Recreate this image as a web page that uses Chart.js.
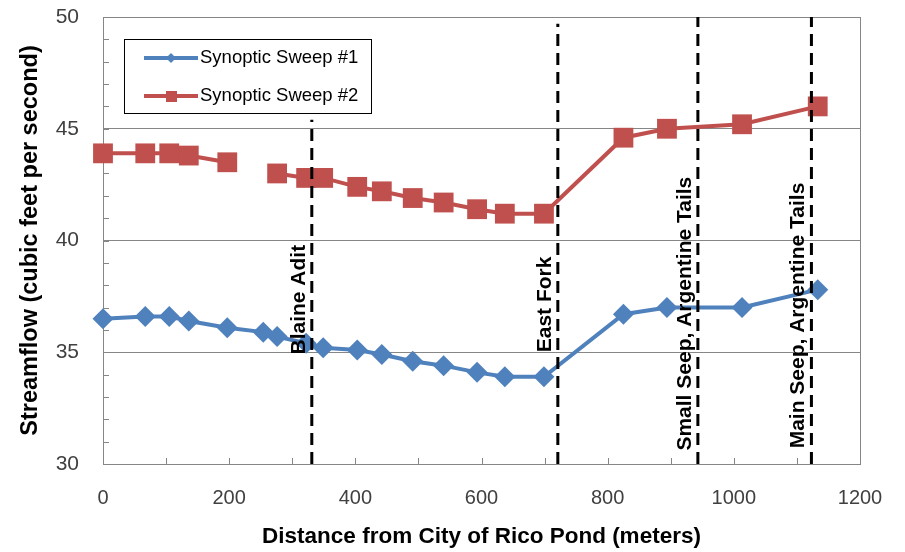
<!DOCTYPE html>
<html>
<head>
<meta charset="utf-8">
<script src="https://cdn.jsdelivr.net/npm/chart.js@4.4.1/dist/chart.umd.min.js"></script>
<style>
  html, body { margin: 0; padding: 0; background: #fff; }
  canvas { display: block; }
</style>
</head>
<body>
<canvas id="grafico" width="905" height="552"></canvas>
<script>
// DATOS
const distancias = [0, 67, 105, 136, 197, 254, 276, 322, 349, 403, 442, 491, 540, 593, 637, 699, 825, 894, 1013, 1133];
const sweep1 = [36.5, 36.6, 36.6, 36.4, 36.1, 35.9, 35.7, 35.4, 35.2, 35.1, 34.9, 34.6, 34.4, 34.1, 33.9, 33.9, 36.7, 37.0, 37.0, 37.8];
const sweep2 = [43.9, 43.9, 43.9, 43.8, 43.5, null, 43.0, 42.8, 42.8, 42.4, 42.2, 41.9, 41.7, 41.4, 41.2, 41.2, 44.6, 45.0, 45.2, 46.0];

const ticksX = [0, 200, 400, 600, 800, 1000, 1200];
const ticksY = [30, 35, 40, 45, 50];

// lineas verticales de referencia
const marcasX = [331, 721, 943, 1123];
const marcasTope = [45.4, 49.7, 50, 50];
const marcasBase = [34.9, 35.0, 30.6, 30.7];
const marcasTexto = ['Blaine Adit', 'East Fork', 'Small Seep, Argentine Tails', 'Main Seep, Argentine Tails'];

const fuente = "'Liberation Sans', Arial, sans-serif";
const AZUL = '#4F81BD';
const ROJO = '#C0504D';
const GRIS = '#868686';

Chart.defaults.font.family = fuente;

const puntos = serie => distancias.map((d, i) => ({ x: d, y: serie[i] }));

// ----------------------------
// PLUGINS
const marco = {
    id: 'marco',
    beforeDatasetsDraw(chart) {
        const { ctx, chartArea: a, scales: { x, y } } = chart;
        ctx.save();
        ctx.strokeStyle = GRIS;
        ctx.lineWidth = 1;
        ctx.strokeRect(a.left + 0.5, a.top + 0.5, a.right - a.left, a.bottom - a.top);
        ctx.beginPath();
        for (let v = 30; v <= 50; v++) {
            const py = Math.round(y.getPixelForValue(v)) + 0.5;
            ctx.moveTo(a.left, py);
            ctx.lineTo(a.left + 6, py);
        }
        for (let v = 0; v <= 1200; v += 100) {
            const px = Math.round(x.getPixelForValue(v)) + 0.5;
            ctx.moveTo(px, a.bottom);
            ctx.lineTo(px, a.bottom - 6);
        }
        ctx.stroke();
        ctx.restore();
    }
};

const etiquetas = {
    id: 'etiquetas',
    afterDatasetsDraw(chart) {
        const { ctx, scales: { x, y } } = chart;
        ctx.save();
        ctx.fillStyle = '#000';
        ctx.font = "bold 21px " + fuente;
        ctx.textAlign = 'left';
        ctx.textBaseline = 'alphabetic';
        marcasTexto.forEach((txt, i) => {
            ctx.save();
            ctx.translate(x.getPixelForValue(marcasX[i]) - 7, y.getPixelForValue(marcasBase[i]));
            ctx.rotate(-Math.PI / 2);
            ctx.fillText(txt, 0, 0);
            ctx.restore();
        });
        ctx.restore();
    }
};

const leyenda = {
    id: 'leyenda',
    afterDraw(chart) {
        const ctx = chart.ctx;
        ctx.save();
        ctx.fillStyle = '#fff';
        ctx.fillRect(124, 39, 248, 75);
        ctx.strokeStyle = '#000';
        ctx.lineWidth = 1;
        ctx.strokeRect(124.5, 39.5, 247, 74);

        const items = [
            { txt: 'Synoptic Sweep #1', color: AZUL, y: 58, forma: 'rombo' },
            { txt: 'Synoptic Sweep #2', color: ROJO, y: 96, forma: 'cuadro' }
        ];
        items.forEach(it => {
            ctx.strokeStyle = it.color;
            ctx.fillStyle = it.color;
            ctx.lineWidth = 4;
            ctx.beginPath();
            ctx.moveTo(144, it.y);
            ctx.lineTo(198, it.y);
            ctx.stroke();
            ctx.beginPath();
            if (it.forma === 'rombo') {
                ctx.moveTo(171 - 5, it.y);
                ctx.lineTo(171, it.y - 5);
                ctx.lineTo(171 + 5, it.y);
                ctx.lineTo(171, it.y + 5);
                ctx.closePath();
            } else {
                ctx.rect(166, it.y - 5, 11, 11);
            }
            ctx.fill();
            ctx.fillStyle = '#000';
            ctx.font = "18.5px " + fuente;
            ctx.textAlign = 'left';
            ctx.textBaseline = 'middle';
            ctx.fillText(it.txt, 200, it.y);
        });
        ctx.restore();
    }
};

// ----------------------------
// DATASETS
const lineasMarca = marcasX.map((mx, i) => ({
    label: marcasTexto[i],
    data: [{ x: mx, y: 30 }, { x: mx, y: marcasTope[i] }],
    borderColor: '#000',
    borderWidth: 3,
    borderDash: [12, 7],
    pointRadius: 0,
    order: 0
}));

const ctx = document.getElementById('grafico').getContext('2d');
new Chart(ctx, {
    type: 'line',
    data: {
        datasets: [
            ...lineasMarca,
            {
                label: 'Synoptic Sweep #1',
                data: puntos(sweep1),
                borderColor: AZUL,
                backgroundColor: AZUL,
                borderWidth: 4,
                pointStyle: 'rectRot',
                pointRadius: 10.5,
                pointBorderWidth: 0,
                tension: 0,
                clip: false,
                order: 2
            },
            {
                label: 'Synoptic Sweep #2',
                data: puntos(sweep2),
                borderColor: ROJO,
                backgroundColor: ROJO,
                borderWidth: 4,
                pointStyle: 'rect',
                pointRadius: 14,
                pointBorderWidth: 0,
                spanGaps: false,
                tension: 0,
                clip: false,
                order: 1
            }
        ]
    },
    options: {
        responsive: false,
        animation: false,
        devicePixelRatio: 1,
        events: [],
        layout: { padding: { left: 0, right: 45, top: 17, bottom: 0 } },
        plugins: {
            legend: { display: false },
            tooltip: { enabled: false }
        },
        scales: {
            x: {
                type: 'linear',
                min: 0,
                max: 1200,
                afterBuildTicks: s => { s.ticks = ticksX.map(v => ({ value: v })); },
                afterFit: s => { s.height = 88; },
                grid: { display: false, drawTicks: true, tickLength: 22, tickColor: 'rgba(0,0,0,0)' },
                border: { color: GRIS },
                ticks: { color: '#404040', font: { size: 20 }, padding: 0, maxRotation: 0, callback: v => String(v) },
                title: {
                    display: true,
                    text: 'Distance from City of Rico Pond (meters)',
                    color: '#000',
                    font: { size: 22.5, weight: 'bold' },
                    padding: { top: 2, bottom: 2 }
                }
            },
            y: {
                min: 30,
                max: 50,
                afterBuildTicks: s => { s.ticks = ticksY.map(v => ({ value: v })); },
                afterFit: s => { s.width = 103; },
                grid: { color: GRIS, drawTicks: true, tickLength: 24, tickColor: 'rgba(0,0,0,0)' },
                border: { color: GRIS },
                ticks: { color: '#404040', font: { size: 21 }, padding: 0 },
                title: {
                    display: true,
                    text: 'Streamflow (cubic feet per second)',
                    color: '#000',
                    font: { size: 23.5, weight: 'bold' },
                    padding: { top: 16, bottom: 16 }
                }
            }
        }
    },
    plugins: [marco, etiquetas, leyenda]
});
</script>
</body>
</html>
